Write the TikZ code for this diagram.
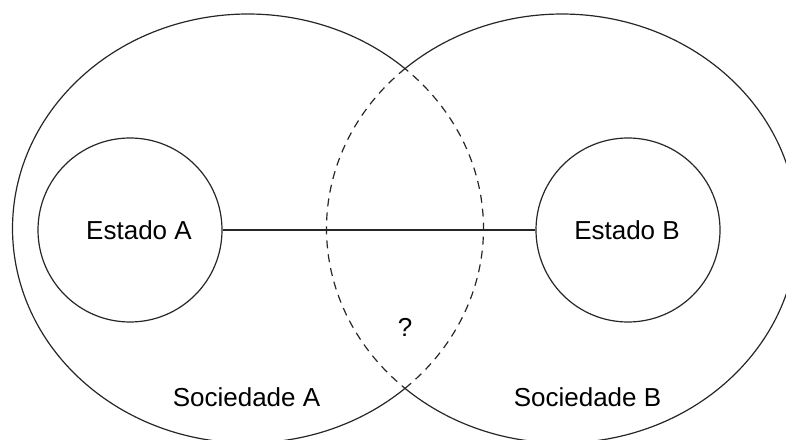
\documentclass[tikz,border=0pt]{standalone}
\usepackage{fontspec}
\setmainfont{Liberation Sans}
\tikzset{
  outline/.style={line width=1.2pt, draw=black!85},
  dashline/.style={line width=1.2pt, draw=black!85, dash pattern=on 8pt off 6pt},
  estado/.style={circle, outline, minimum size=184pt, inner sep=0pt},
  label/.style={font=\fontsize{26}{31}\selectfont, inner sep=0pt}
}
\begin{document}
\begin{tikzpicture}[x=1pt,y=1pt]
\useasboundingbox (0,0) rectangle (786,439);
% big ellipses (Sociedade A and B)
\coordinate (ca) at (248,210.5);
\coordinate (cb) at (562,210.5);
\draw[outline] (ca) ++(48.19:235.5 and 214.5) arc[start angle=48.19, end angle=311.81, x radius=235.5, y radius=214.5];
\draw[dashline] (ca) ++(-48.19:235.5 and 214.5) arc[start angle=-48.19, end angle=48.19, x radius=235.5, y radius=214.5];
\draw[outline] (cb) ++(-131.81:235.5 and 214.5) arc[start angle=-131.81, end angle=131.81, x radius=235.5, y radius=214.5];
\draw[dashline] (cb) ++(131.81:235.5 and 214.5) arc[start angle=131.81, end angle=228.19, x radius=235.5, y radius=214.5];
% state circles
\node[estado] (ea) at (130,209) {};
\node[estado] (eb) at (628,209) {};
\node[label] (ta) at (139,209) {Estado A};
\node[label] (tb) at (627,209) {Estado B};
\draw[outline] (ea) -- (eb);
% labels
\node[label] (q) at (405,112) {?};
\node[label] (sa) at (246.5,42) {Sociedade A};
\node[label] (sb) at (587.5,42) {Sociedade B};
\end{tikzpicture}
\end{document}
